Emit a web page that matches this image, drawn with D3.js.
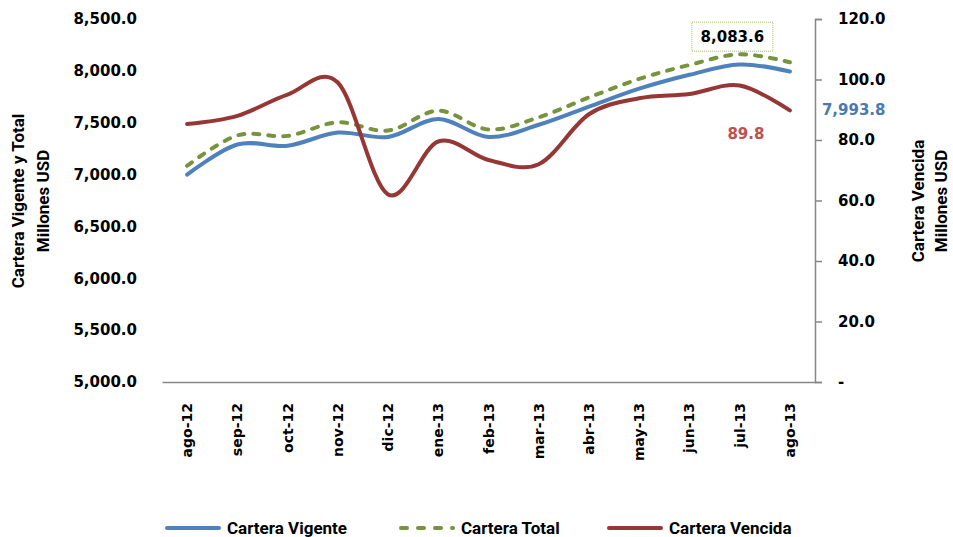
<!DOCTYPE html>
<html>
<head>
<meta charset="utf-8">
<script src="https://cdn.jsdelivr.net/npm/d3@7"></script>
<style>
  body { margin: 0; background: #fff; }
  .tick text { font-family: "DejaVu Sans", Verdana, sans-serif; font-weight: bold; }
</style>
</head>
<body>
<div id="chart"></div>
<script>
// data
var months = ["ago-12", "sep-12", "oct-12", "nov-12", "dic-12", "ene-13", "feb-13",
              "mar-13", "abr-13", "may-13", "jun-13", "jul-13", "ago-13"];
var vigente = [7000, 7290, 7278, 7405, 7362, 7536, 7362, 7480, 7655, 7828, 7962, 8062, 7993.8];
var total = [7085, 7378, 7373, 7504, 7424, 7616, 7435, 7552, 7744, 7922, 8057, 8160, 8083.6];
var vencida = [85.3, 88.0, 95.0, 99.0, 62.0, 79.5, 73.4, 72.0, 88.5, 93.8, 95.2, 98.0, 89.8];
var leftTicks = [5000, 5500, 6000, 6500, 7000, 7500, 8000, 8500];
var rightTicks = [0, 20, 40, 60, 80, 100, 120];

var width = 953, height = 537;
var margin = {top: 19, right: 138, bottom: 155, left: 162};

var svg = d3.select("#chart")
            .append("svg")
            .attr("width", width)
            .attr("height", height)
            .style("background-color", "white");

var x = d3.scaleBand()
          .domain(months)
          .range([margin.left, width - margin.right]);

var yLeft = d3.scaleLinear()
          .domain([5000, 8500])
          .range([height - margin.bottom, margin.top]);

var yRight = d3.scaleLinear()
          .domain([0, 120])
          .range([height - margin.bottom, margin.top]);

var fmt = d3.format(",.1f");
var cx = function(d, i) { return x(months[i]) + x.bandwidth() / 2; };

//Left axis (labels only)
var gLeft = svg.append("g")
            .attr("transform", "translate(" + margin.left + ",0)")
            .call(d3.axisLeft(yLeft).tickValues(leftTicks).tickFormat(fmt).tickSize(0).tickPadding(25));
gLeft.select(".domain").remove();
gLeft.selectAll("text").style("font-size", "15px").attr("fill", "#000");

//Right axis
var gRight = svg.append("g")
            .attr("transform", "translate(" + (width - margin.right) + ",0)")
            .call(d3.axisRight(yRight).tickValues(rightTicks)
                    .tickFormat(function(d) { return d === 0 ? "-" : fmt(d); })
                    .tickSizeInner(7).tickSizeOuter(7).tickPadding(16));
gRight.select(".domain").attr("stroke", "#868686").attr("stroke-width", 1.5);
gRight.selectAll(".tick line").attr("stroke", "#868686").attr("stroke-width", 1.5);
gRight.selectAll("text").style("font-size", "15px").attr("fill", "#000");

//X axis
var gX = svg.append("g")
            .attr("transform", "translate(0," + (height - margin.bottom) + ")")
            .call(d3.axisBottom(x).tickSize(0).tickSizeOuter(0));
gX.select(".domain").attr("stroke", "#868686").attr("stroke-width", 1.5);
gX.selectAll("text")
            .style("font-size", "14px")
            .attr("fill", "#000")
            .attr("text-anchor", "end")
            .attr("transform", "rotate(-90)")
            .attr("x", -21)
            .attr("y", 0)
            .attr("dy", "0.36em");

//Axis titles
var titleFont = "Roboto, 'Liberation Sans', sans-serif";
var leftTitle = svg.append("text")
            .attr("transform", "translate(24,201) rotate(-90)")
            .attr("text-anchor", "middle")
            .style("font-family", titleFont)
            .style("font-weight", "bold")
            .style("font-size", "17px");
leftTitle.append("tspan").attr("x", 0).attr("dy", 0).text("Cartera Vigente y Total");
leftTitle.append("tspan").attr("x", 0).attr("dy", 25).text("Millones USD");

var rightTitle = svg.append("text")
            .attr("transform", "translate(924,201) rotate(-90)")
            .attr("text-anchor", "middle")
            .style("font-family", titleFont)
            .style("font-weight", "bold")
            .style("font-size", "17px");
rightTitle.append("tspan").attr("x", 0).attr("dy", 0).text("Cartera Vencida");
rightTitle.append("tspan").attr("x", 0).attr("dy", 23).text("Millones USD");

//Lines
var lineLeft = d3.line()
            .x(cx)
            .y(function(d) { return yLeft(d); })
            .curve(d3.curveCardinal.tension(0));

var lineRight = d3.line()
            .x(cx)
            .y(function(d) { return yRight(d); })
            .curve(d3.curveCardinal.tension(0));

svg.append("path")
            .attr("d", lineLeft(vigente))
            .attr("fill", "none")
            .attr("stroke", "#4F81BD")
            .attr("stroke-width", 4)
            .attr("stroke-linecap", "round");

svg.append("path")
            .attr("d", lineLeft(total))
            .attr("fill", "none")
            .attr("stroke", "#77933C")
            .attr("stroke-width", 4)
            .attr("stroke-linecap", "round")
            .attr("stroke-dasharray", "6,9");

svg.append("path")
            .attr("d", lineRight(vencida))
            .attr("fill", "none")
            .attr("stroke", "#953735")
            .attr("stroke-width", 4)
            .attr("stroke-linecap", "round");

//Data labels on the last point
var last = months.length - 1;
var lastX = cx(null, last);
var labelFont = "'DejaVu Sans', Verdana, sans-serif";

svg.append("rect")
            .attr("x", lastX - 98)
            .attr("y", yLeft(total[last]) - 40)
            .attr("width", 81)
            .attr("height", 29)
            .attr("fill", "white")
            .attr("stroke", "#9BBB59")
            .attr("stroke-width", 1)
            .attr("stroke-dasharray", "1,1");

svg.append("text")
            .attr("x", lastX - 57.5)
            .attr("y", yLeft(total[last]) - 20)
            .attr("text-anchor", "middle")
            .style("font-family", labelFont)
            .style("font-weight", "bold")
            .style("font-size", "15px")
            .attr("fill", "#000")
            .text(fmt(total[last]));

svg.append("text")
            .attr("x", lastX + 32)
            .attr("y", yLeft(vigente[last]) + 43)
            .style("font-family", labelFont)
            .style("font-weight", "bold")
            .style("font-size", "15px")
            .attr("fill", "#4A78B0")
            .text(fmt(vigente[last]));

svg.append("text")
            .attr("x", lastX - 44)
            .attr("y", yRight(vencida[last]) + 29)
            .attr("text-anchor", "middle")
            .style("font-family", labelFont)
            .style("font-weight", "bold")
            .style("font-size", "15px")
            .attr("fill", "#C0504D")
            .text(fmt(vencida[last]));

//Legend
var legendItems = [
  {name: "Cartera Vigente", color: "#4F81BD", dash: null, x: 165},
  {name: "Cartera Total", color: "#77933C", dash: "6,11", x: 399},
  {name: "Cartera Vencida", color: "#953735", dash: null, x: 607}
];

var legend = svg.selectAll(".legend")
            .data(legendItems)
            .enter()
            .append("g")
            .attr("transform", function(d) { return "translate(" + d.x + ",528)"; });

legend.append("line")
            .attr("x1", 2)
            .attr("x2", 54)
            .attr("stroke", function(d) { return d.color; })
            .attr("stroke-width", 4)
            .attr("stroke-linecap", "round")
            .attr("stroke-dasharray", function(d) { return d.dash; });

legend.append("text")
            .attr("x", 62)
            .attr("dy", "0.36em")
            .style("font-family", titleFont)
            .style("font-weight", "bold")
            .style("font-size", "17px")
            .text(function(d) { return d.name; });
</script>
</body>
</html>
